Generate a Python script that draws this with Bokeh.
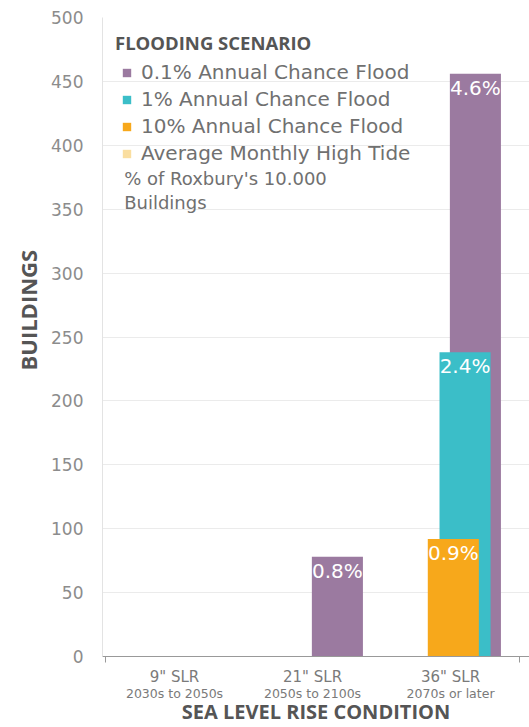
from bokeh.plotting import figure
from bokeh.models import (ColumnDataSource, Range1d, LinearAxis, FixedTicker,
                          Legend, LegendItem, Label, Title)
from bokeh.core.properties import value
from bokeh.transform import dodge
from bokeh.embed import file_html
from bokeh.resources import INLINE

# ---------------- data ----------------
conditions = ['9" SLR', '21" SLR', '36" SLR']
periods = ["2030s to 2050s", "2050s to 2100s", "2070s or later"]
scenarios = ["0.1% Annual Chance Flood", "1% Annual Chance Flood",
             "10% Annual Chance Flood", "Average Monthly High Tide"]
flood_01 = [0, 78, 456]
flood_1 = [0, 0, 238]
flood_10 = [0, 0, 92]
high_tide = [0, 0, 0]
pct_01 = ["", "0.8%", "4.6%"]
pct_1 = ["", "", "2.4%"]
pct_10 = ["", "", "0.9%"]
pct_tide = ["", "", ""]
y_ticks = [0, 50, 100, 150, 200, 250, 300, 350, 400, 450, 500]
note_lines = ["% of Roxbury's 10.000", "Buildings"]
y_title = "BUILDINGS"
x_title = "SEA LEVEL RISE CONDITION"
legend_title = "FLOODING SCENARIO"

# ---------------- styles ----------------
colors = ["#9b7aa0", "#3bbec8", "#f7a81b", "#fadea0"]
offsets = [0.18, 0.105, 0.02, -0.065]
bar_w = 0.37
FONT = "DejaVu Sans"
BOLD = "Open Sans"

xs = [i + 0.5 for i in range(len(conditions))]
src = ColumnDataSource(dict(
    x=xs, f01=flood_01, f1=flood_1, f10=flood_10, tide=high_tide,
    p01=pct_01, p1=pct_1, p10=pct_10, ptide=pct_tide))
series = [("f01", "p01"), ("f1", "p1"), ("f10", "p10"), ("tide", "ptide")]

p = figure(width=529, height=727,
           x_range=Range1d(-0.022, len(conditions) + 0.072),
           y_range=Range1d(0, 500),
           output_backend="svg", toolbar_location=None,
           x_axis_type=None,
           min_border_left=102, min_border_right=0,
           min_border_top=17, min_border_bottom=71)
p.outline_line_color = None
p.background_fill_color = "white"
p.xgrid.visible = False
p.ygrid.grid_line_color = "#ebebeb"
p.ygrid.ticker = FixedTicker(ticks=y_ticks)

# y axis
ya = p.yaxis[0]
ya.ticker = FixedTicker(ticks=y_ticks)
ya.major_tick_line_color = None
ya.minor_tick_line_color = None
ya.axis_line_color = "#e3e3e3"
ya.major_label_text_font = FONT
ya.major_label_text_font_size = "17px"
ya.major_label_text_color = "#8c8c8c"
ya.major_label_standoff = 13

# y title: a side title, shifted up from the frame bottom
p.add_layout(Title(text=y_title, align="left", offset=286,
                   vertical_align="middle", standoff=10,
                   text_font=BOLD, text_font_style="bold",
                   text_font_size="22px", text_color="#555555"), "left")

# x axes
tick_pos = xs
bounds = [0, len(conditions)]
ax1 = LinearAxis(
    ticker=FixedTicker(ticks=tick_pos, minor_ticks=bounds),
    major_label_overrides={t: c for t, c in zip(tick_pos, conditions)},
    major_tick_line_color=None, major_tick_out=0, major_tick_in=0,
    minor_tick_out=6, minor_tick_in=0, minor_tick_line_color="#999999",
    axis_line_color="#999999",
    major_label_text_font=FONT, major_label_text_font_size="15px",
    major_label_text_color="#7a7a7a", major_label_standoff=5)
ax2 = LinearAxis(
    ticker=FixedTicker(ticks=tick_pos),
    major_label_overrides={t: c for t, c in zip(tick_pos, periods)},
    axis_line_color=None, major_tick_line_color=None, minor_tick_line_color=None,
    major_tick_out=0, major_tick_in=0,
    major_label_text_font=FONT, major_label_text_font_size="12.5px",
    major_label_text_color="#7a7a7a", major_label_standoff=-3,
    axis_label=x_title, axis_label_text_font=BOLD,
    axis_label_text_font_style="bold", axis_label_text_font_size="20px",
    axis_label_text_color="#555555", axis_label_standoff=-6)
p.add_layout(ax1, "below")
p.add_layout(ax2, "below")

# bars
for (vf, _), col, off in zip(series, colors, offsets):
    p.vbar(x=dodge("x", off), top=vf, width=bar_w, bottom=0, source=src,
           fill_color=col, line_color=None)

# percent labels
for (vf, pf), off in zip(series, offsets):
    p.text(x=dodge("x", off), y=vf, text=pf, source=src,
           text_align="center", text_baseline="top", y_offset=2,
           text_color="white", text_font=value(FONT), text_font_size="20px")

# legend (square marker proxies, no visible data point)
nan = float("nan")
items = []
for name, col in zip(scenarios, colors):
    r = p.scatter(x=[nan], y=[nan], marker="square", size=8,
                  fill_color=col, line_color=None)
    items.append(LegendItem(label=name, renderers=[r]))

legend = Legend(items=items, location="top_left",
                title=legend_title,
                title_text_font=BOLD, title_text_font_style="bold",
                title_text_font_size="18.5px", title_text_color="#555555",
                title_standoff=5,
                label_text_font=FONT, label_text_font_size="20px",
                label_text_color="#707070",
                glyph_width=23, glyph_height=21, label_height=21,
                label_standoff=3, spacing=3,
                margin=13, padding=10,
                background_fill_alpha=0, border_line_color=None)
p.add_layout(legend)

for txt, yv in zip(note_lines, [374, 355]):
    p.add_layout(Label(x=0.135, y=yv, text=txt, text_baseline="middle",
                       text_font=FONT, text_font_size="18px",
                       text_color="#707070"))

open("out.html", "w").write(file_html(p, INLINE))
